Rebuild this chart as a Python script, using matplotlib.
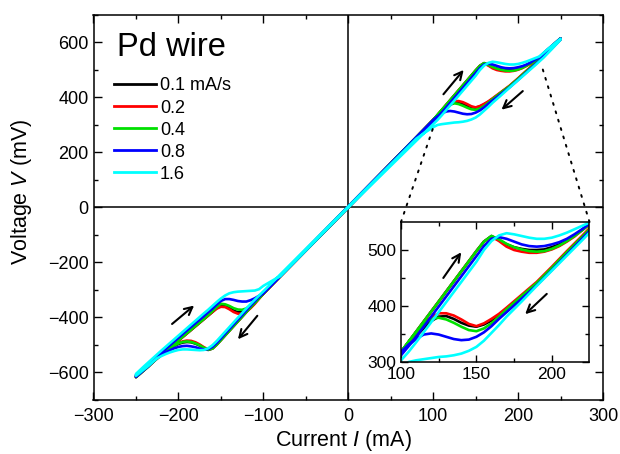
import matplotlib
matplotlib.use("Agg")
import matplotlib.pyplot as plt
from matplotlib.patches import ConnectionPatch
from matplotlib.ticker import MultipleLocator, FixedLocator

plt.rcParams["font.family"] = ["Liberation Sans", "DejaVu Sans"]
plt.rcParams["mathtext.fontset"] = "custom"
plt.rcParams["mathtext.rm"] = "Liberation Sans"
plt.rcParams["mathtext.it"] = "Liberation Sans:italic"

rates = ["0.1 mA/s", "0.2", "0.4", "0.8", "1.6"]
colors = ["#000000", "#ff0000", "#00e000", "#0000ff", "#00ffff"]

# current grids for each branch (mA)
pos_up_I = [100, 105, 110, 115, 120, 125, 130, 135, 140, 145, 150, 155, 160, 165,
            170, 175, 180, 185, 190, 195, 200, 205, 210, 215, 220, 225, 235, 250]
pos_dn_I = [250, 240, 230, 225, 220, 210, 200, 190, 180, 170, 165, 160, 155, 150,
            145, 140, 135, 130, 125, 120, 115, 110, 105, 100]
neg_dn_I = [-100, -105, -110, -115, -120, -125, -130, -135, -140, -145, -150, -155,
            -160, -165, -170, -175, -180, -185, -190, -195, -200, -205, -210, -215,
            -220, -225, -235, -250]
neg_up_I = [-250, -240, -230, -225, -220, -210, -200, -190, -180, -170, -165, -160,
            -155, -150, -145, -140, -135, -130, -125, -120, -115, -110, -105, -100]

# voltages (mV), one list per sweep rate
pos_up_V = {
    "0.1 mA/s": [318, 336, 354, 372, 390, 408, 426, 444, 462, 480, 498, 515, 525, 518,
                 510, 505, 502, 500, 500, 501, 505, 510, 517, 526, 536, 546, 574, 615],
    "0.2": [318, 336, 354, 372, 390, 408, 426, 444, 462, 480, 498, 515, 524, 516,
            506, 500, 497, 495, 495, 497, 501, 507, 515, 524, 535, 546, 574, 615],
    "0.4": [318, 336, 354, 372, 390, 408, 426, 444, 462, 480, 498, 515, 525, 519,
            511, 505, 501, 498, 497, 498, 502, 508, 516, 525, 535, 546, 574, 615],
    "0.8": [312, 328, 345, 363, 381, 399, 417, 435, 453, 471, 489, 507, 520, 523,
            520, 515, 510, 507, 506, 507, 510, 514, 520, 528, 537, 547, 575, 615],
    "1.6": [303, 318, 335, 353, 371, 389, 407, 425, 443, 461, 479, 500, 516, 526,
            530, 528, 525, 522, 520, 520, 522, 526, 531, 537, 543, 549, 576, 614],
}
pos_dn_V = {
    "0.1 mA/s": [612, 581, 551, 537, 523, 496, 468, 441, 418, 395, 384, 374, 367, 363,
                 365, 370, 377, 382, 381, 373, 360, 346, 332, 318],
    "0.2": [612, 582, 552, 539, 525, 498, 470, 443, 420, 397, 386, 377, 369, 364,
            368, 376, 383, 387, 387, 380, 366, 350, 334, 318],
    "0.4": [612, 581, 551, 537, 523, 496, 468, 441, 418, 394, 381, 369, 360, 355,
            357, 363, 370, 376, 379, 377, 368, 353, 336, 318],
    "0.8": [611, 579, 548, 534, 520, 492, 464, 437, 413, 389, 377, 364, 353, 345,
            340, 339, 341, 345, 349, 351, 349, 341, 331, 318],
    "1.6": [610, 577, 545, 531, 517, 490, 463, 436, 408, 381, 366, 352, 338, 327,
            320, 315, 312, 310, 309, 307, 305, 303, 300, 292],
}
neg_dn_V = {
    "0.1 mA/s": [-312, -329, -346, -363, -380, -397, -414, -431, -448, -465, -482, -499,
                 -513, -518, -511, -502, -495, -490, -489, -491, -496, -503, -512, -523,
                 -534, -546, -577, -617],
    "0.2": [-312, -329, -346, -363, -380, -397, -414, -431, -448, -465, -482, -499,
            -513, -516, -508, -498, -490, -485, -484, -487, -493, -501, -511, -522,
            -533, -545, -577, -617],
    "0.4": [-312, -329, -346, -363, -380, -397, -414, -431, -448, -465, -482, -499,
            -513, -517, -510, -501, -494, -489, -487, -489, -494, -502, -511, -522,
            -533, -545, -577, -617],
    "0.8": [-310, -325, -341, -357, -374, -391, -408, -425, -442, -459, -476, -493,
            -507, -515, -516, -513, -508, -505, -503, -504, -507, -512, -519, -527,
            -536, -546, -576, -616],
    "1.6": [-305, -320, -335, -351, -367, -384, -401, -418, -435, -452, -469, -486,
            -501, -512, -518, -519, -518, -517, -516, -516, -518, -522, -527, -533,
            -540, -548, -575, -612],
}
neg_up_V = {
    "0.1 mA/s": [-614, -588, -562, -549, -536, -510, -484, -458, -432, -406, -393, -380,
                 -366, -356, -358, -366, -375, -381, -380, -373, -361, -346, -330, -313],
    "0.2": [-614, -588, -562, -549, -536, -510, -484, -458, -432, -406, -393, -380,
            -368, -361, -362, -370, -380, -386, -386, -379, -366, -350, -332, -314],
    "0.4": [-613, -587, -561, -548, -535, -509, -483, -457, -431, -405, -391, -377,
            -362, -350, -352, -358, -366, -371, -372, -367, -357, -344, -329, -313],
    "0.8": [-609, -582, -555, -541, -528, -501, -474, -447, -421, -395, -381, -368,
            -353, -340, -333, -333, -336, -340, -342, -342, -337, -330, -321, -312],
    "1.6": [-605, -576, -548, -534, -520, -493, -466, -439, -412, -385, -372, -358,
            -344, -331, -320, -312, -308, -306, -305, -304, -303, -302, -297, -285],
}
# the 1.6 mA/s trace leaves the common line earlier
cyan_pos_tail_I = [95, 90, 85, 80]
cyan_pos_tail_V = [282, 272, 261, 250]
cyan_neg_tail_I = [-95, -90, -85, -80]
cyan_neg_tail_V = [-276, -267, -258, -250]

arrows_main = [((110, 404), (138, 508)), ((208, 430), (178, 349)),
               ((-210, -430), (-179, -350)), ((-105, -386), (-132, -487))]
arrows_inset = [((127, 446), (141, 500)), ((198, 425), (181, 382))]


def full_trace(rate):
    I = [0] + pos_up_I + pos_dn_I
    V = [0] + pos_up_V[rate] + pos_dn_V[rate]
    if rate == "1.6":
        I += cyan_pos_tail_I
        V += cyan_pos_tail_V
    I += neg_dn_I + neg_up_I
    V += neg_dn_V[rate] + neg_up_V[rate]
    if rate == "1.6":
        I += cyan_neg_tail_I
        V += cyan_neg_tail_V
    I.append(0)
    V.append(0)
    return I, V


fig = plt.figure(figsize=(6.2, 4.54), dpi=100)
ax = fig.add_axes([93.5 / 620, 1 - 400 / 454, 509.5 / 620, 385 / 454])

ax.axhline(0, color="k", lw=1.1, zorder=1)
ax.axvline(0, color="k", lw=1.1, zorder=1)

for rate, c in zip(rates, colors):
    I, V = full_trace(rate)
    ax.plot(I, V, color=c, lw=1.9, label=rate, zorder=2, solid_joinstyle="round")

for start, end in arrows_main:
    ax.annotate("", xy=end, xytext=start,
                arrowprops=dict(arrowstyle="->", lw=1.5, color="k", mutation_scale=14))

ax.set_xlim(-300, 300)
ax.set_ylim(-700, 700)
ax.xaxis.set_major_locator(MultipleLocator(100))
ax.xaxis.set_minor_locator(MultipleLocator(50))
ax.yaxis.set_major_locator(FixedLocator([-600, -400, -200, 0, 200, 400, 600]))
ax.yaxis.set_minor_locator(MultipleLocator(100))
ax.tick_params(which="both", direction="in", top=True, right=True, labelsize=13)
ax.tick_params(which="major", length=6, width=1)
ax.tick_params(which="minor", length=3, width=1)
ax.tick_params(axis="x", pad=6)
for s in ax.spines.values():
    s.set_linewidth(1.1)
ax.set_xlabel("Current $\\it{I}$ (mA)", fontsize=15.5)
ax.set_ylabel("Voltage $\\it{V}$ (mV)", fontsize=15.5)
ax.xaxis.set_label_coords(0.49, -0.072)
ax.yaxis.set_label_coords(-0.117, 0.54)

fig.text(117 / 620, 1 - 48 / 454, "Pd wire", fontsize=23.5, va="center", ha="left")
leg = ax.legend(loc="upper left", bbox_to_anchor=(114 / 620, 1 - 77.5 / 454),
                bbox_transform=fig.transFigure, frameon=False, fontsize=13,
                handlelength=2.3, handletextpad=0.25, labelspacing=0.28,
                borderpad=0, borderaxespad=0)
for h in leg.get_lines():
    h.set_linewidth(2)

# inset
axin = fig.add_axes([401 / 620, 1 - 362 / 454, 188.5 / 620, 140 / 454])
for rate, c in zip(rates, colors):
    I, V = full_trace(rate)
    axin.plot(I, V, color=c, lw=1.9, zorder=2, solid_joinstyle="round")
for start, end in arrows_inset:
    axin.annotate("", xy=end, xytext=start,
                  arrowprops=dict(arrowstyle="->", lw=1.5, color="k", mutation_scale=14))
axin.set_xlim(100, 225)
axin.set_ylim(300, 550)
axin.xaxis.set_major_locator(FixedLocator([100, 150, 200]))
axin.xaxis.set_minor_locator(FixedLocator([125, 175]))
axin.yaxis.set_major_locator(FixedLocator([300, 400, 500]))
axin.yaxis.set_minor_locator(FixedLocator([350, 450]))
axin.tick_params(which="both", direction="in", top=True, right=True, labelsize=12.5)
axin.tick_params(which="major", length=5, width=1)
axin.tick_params(which="minor", length=3, width=1)
for s in axin.spines.values():
    s.set_linewidth(1.1)

for xa, xb in [((100, 550), (100, 290)), ((225, 550), (228, 513))]:
    con = ConnectionPatch(xyA=xa, coordsA=axin.transData, xyB=xb, coordsB=ax.transData,
                          color="k", lw=1.4, linestyle=(0, (1, 3.5)))
    fig.add_artist(con)

fig.savefig("out.png", dpi=100)
